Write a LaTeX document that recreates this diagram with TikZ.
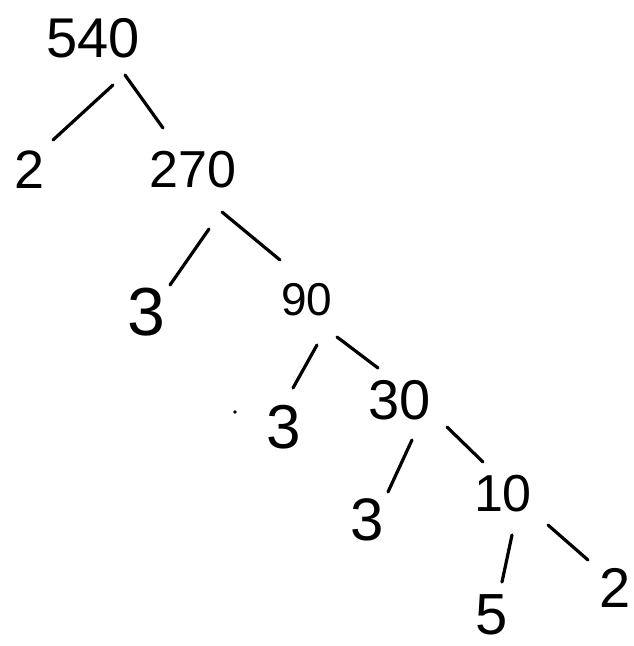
\documentclass[tikz,border=0pt]{standalone}
\usepackage{fontspec}
\setmainfont{Liberation Sans}
\tikzset{
  num/.style={inner sep=0pt, anchor=center},
  branch/.style={line width=3.2pt, line cap=round, black}
}
\newcommand{\fs}[1]{\fontsize{#1}{#1}\selectfont}
\begin{document}
\begin{tikzpicture}[x=1pt,y=-1pt]
\useasboundingbox (0,0) rectangle (634,646);
% numbers
\node[num,font=\fs{56}] (n540) at (93,38) {540};
\node[num,font=\fs{54}] (n2a) at (30,170) {2};
\node[num,font=\fs{52}] (n270) at (193,170) {270};
\node[num,font=\fs{68}] (n3a) at (146,312) {3};
\node[num,font=\fs{46}] (n90) at (307,300) {90};
\node[num,font=\fs{62}] (n3b) at (284,427) {3};
\node[num,font=\fs{56}] (n30) at (400,400) {30};
\node[num,font=\fs{60}] (n3c) at (367,520) {3};
\node[num,font=\fs{52}] (n10) at (503,494) {10};
\node[num,font=\fs{58}] (n5) at (492,615) {5};
\node[num,font=\fs{56}] (n2b) at (615,588) {2};
% branch end points
\coordinate (a1) at (113,85);  \coordinate (a2) at (53,140);
\coordinate (b1) at (125,75);  \coordinate (b2) at (163,128);
\coordinate (c1) at (209,229); \coordinate (c2) at (170,285);
\coordinate (d1) at (222,212); \coordinate (d2) at (280,260);
\coordinate (e1) at (317,345); \coordinate (e2) at (293,388);
\coordinate (f1) at (337,337); \coordinate (f2) at (378,368);
\coordinate (g1) at (412,440); \coordinate (g2) at (388,492);
\coordinate (h1) at (447,427); \coordinate (h2) at (483,462);
\coordinate (i1) at (512,535); \coordinate (i2) at (502,582);
\coordinate (j1) at (548,525); \coordinate (j2) at (588,560);
\draw[branch] (a1) -- (a2);
\draw[branch] (b1) -- (b2);
\draw[branch] (c1) -- (c2);
\draw[branch] (d1) -- (d2);
\draw[branch] (e1) -- (e2);
\draw[branch] (f1) -- (f2);
\draw[branch] (g1) -- (g2);
\draw[branch] (h1) -- (h2);
\draw[branch] (i1) -- (i2);
\draw[branch] (j1) -- (j2);
% stray dot
\fill (235,412) circle (1.8);
\end{tikzpicture}
\end{document}
